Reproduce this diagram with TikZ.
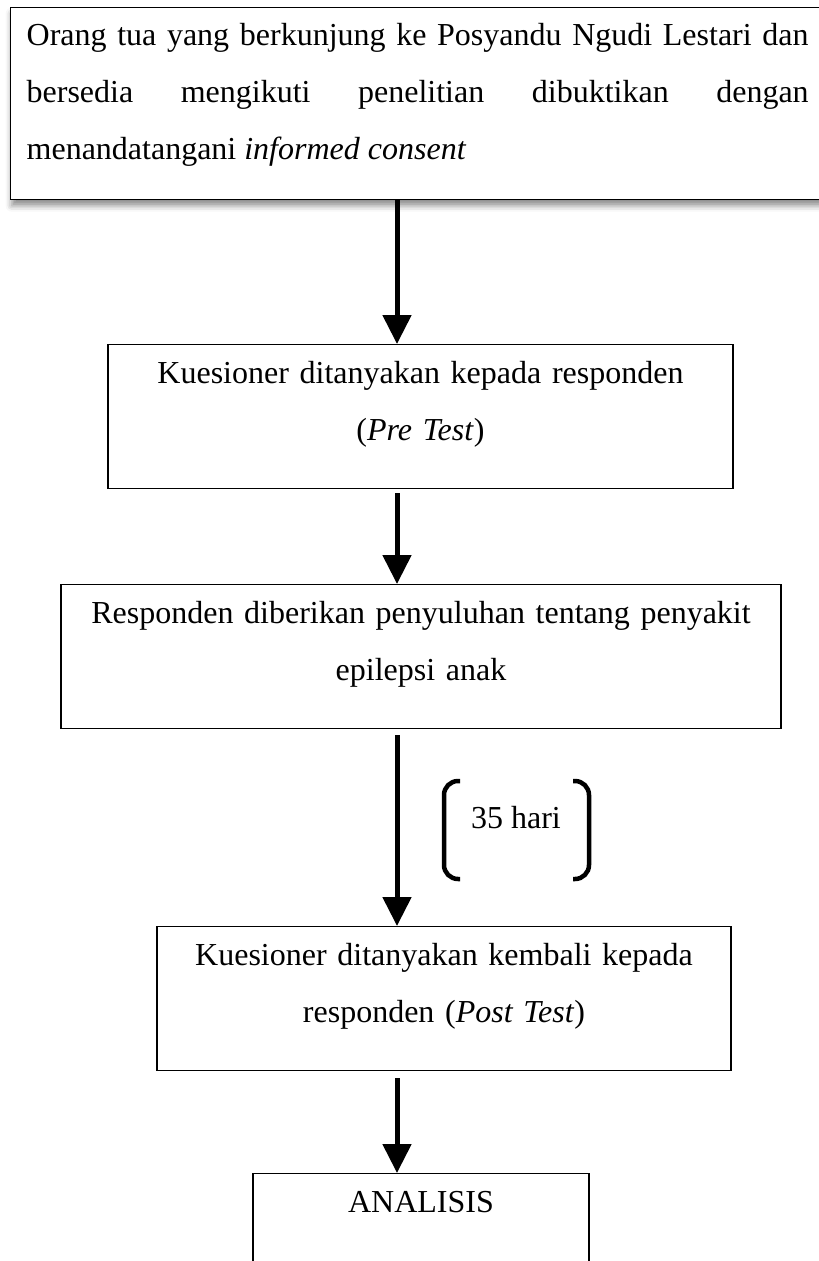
\documentclass[tikz,border=0pt]{standalone}
\usepackage{fontspec}
\setmainfont{Liberation Serif}
\usetikzlibrary{arrows.meta,shadows.blur}
\tikzset{
  txt/.style={font=\fontsize{32pt}{57pt}\selectfont},
  box/.style={txt, draw, line width=1.3pt, anchor=north, text width=#1, align=center,
    inner xsep=10pt, inner ysep=17pt, text height=22pt, text depth=88pt},
  flow/.style={line width=5pt, -{Triangle[length=29pt,width=28pt]}},
  brk/.style={line width=4.5pt, rounded corners=14pt}
}

\begin{document}
\begin{tikzpicture}[x=1pt,y=1pt]
  \useasboundingbox (0,0) rectangle (819,-1261);
  \node[box=782pt, anchor=north west, align=justify, inner xsep=16pt, inner ysep=16pt,
    text depth=138pt, fill=white,
    blur shadow={shadow xshift=1pt, shadow yshift=-6pt, shadow blur radius=6pt, shadow opacity=45}]
    (consent) at (10,-7)
    {Orang tua yang berkunjung ke Posyandu Ngudi Lestari dan\linebreak
     bersedia mengikuti penelitian dibuktikan dengan\linebreak
     menandatangani \textit{informed consent}};
  \node[box=605pt] (pre)  at (420.5,-344) {Kuesioner ditanyakan kepada responden\\(\textit{Pre Test})};
  \node[box=700pt] (edu)  at (421,-584)   {Responden diberikan penyuluhan tentang penyakit\\epilepsi anak};
  \node[box=554pt] (post) at (444,-926)   {Kuesioner ditanyakan kembali kepada\\responden (\textit{Post Test})};
  \node[box=316pt] (ana)  at (421,-1173)  {ANALISIS};
  \node[txt, anchor=base] (dur) at (516,-828) {35 hari};

  % kurung waktu
  \draw[brk] ([shift={(-56,47)}]dur.base) -| ([shift={(-72,0)}]dur.base) |- ([shift={(-56,-51)}]dur.base);
  \draw[brk] ([shift={(57,47)}]dur.base) -| ([shift={(73,0)}]dur.base) |- ([shift={(57,-51)}]dur.base);

  \coordinate (ax) at (397,0);
  \path[flow]
    (consent.south -| ax) edge (pre.north -| ax)
    (pre.south -| ax)     edge[shorten <=4pt] (edu.north -| ax)
    (edu.south -| ax)     edge[shorten <=6pt] (post.north -| ax)
    (post.south -| ax)    edge[shorten <=7pt] (ana.north -| ax);
\end{tikzpicture}
\end{document}
